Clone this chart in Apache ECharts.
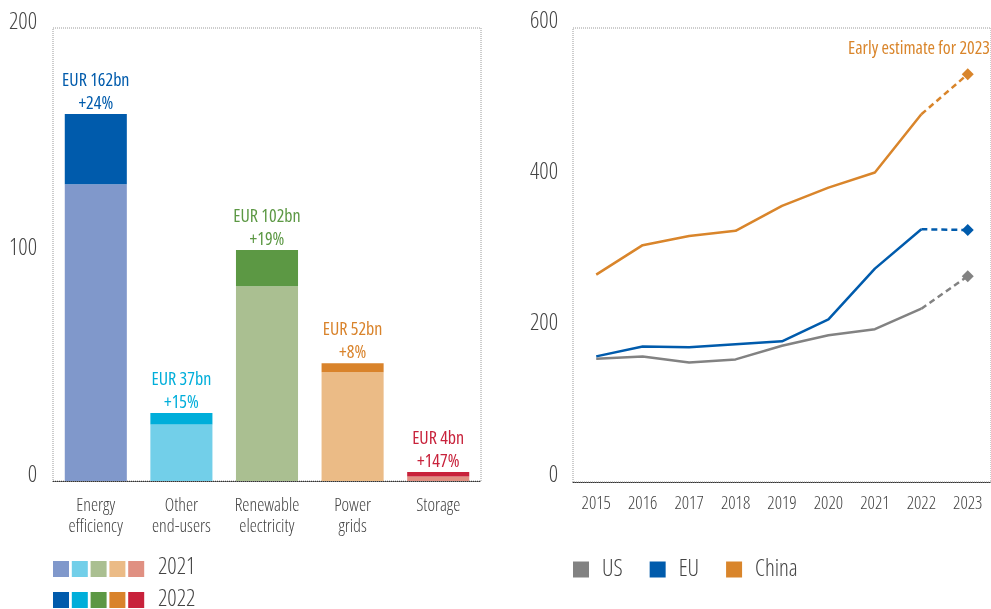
<!DOCTYPE html>
<html>
<head>
<meta charset="utf-8">
<script src="https://cdn.jsdelivr.net/npm/echarts@6/dist/echarts.min.js"></script>
<style>
  html, body { margin: 0; padding: 0; background: #fff; }
  #main { width: 991px; height: 609px; }
</style>
</head>
<body>
<div id="main"></div>
<script>
// data
var categories = ['Energy\nefficiency', 'Other\nend-users', 'Renewable\nelectricity', 'Power\ngrids', 'Storage'];
var inv2021 = [131, 25, 86, 48, 2];
var inv2022 = [162, 30, 102, 52, 4];
var barLabels = ['EUR 162bn', 'EUR 37bn', 'EUR 102bn', 'EUR 52bn', 'EUR 4bn'];
var growth = ['+24%', '+15%', '+19%', '+8%', '+147%'];

var years = ['2015', '2016', '2017', '2018', '2019', '2020', '2021', '2022', '2023'];
var us = [163, 166, 158, 162, 180, 194, 202, 229, 272];
var eu = [166, 179, 178, 182, 186, 215, 282, 334, 333];
var china = [274, 313, 325, 332, 365, 389, 409, 486, 539];

// colours
var col2021 = ['#8098cb', '#72cfe9', '#aabf91', '#ebbb86', '#e09082'];
var col2022 = ['#005bac', '#00aeda', '#5c9844', '#d9832b', '#c8223b'];
var lineCol = { US: '#828282', EU: '#005bac', China: '#d9852b' };

// condensed Open Sans (variable width axis) stands in for the narrow original face
var family = '"Open Sans", sans-serif';
var light = '300 condensed';
var regular = 'normal condensed';

window.onload = function () {
  var chart = echarts.init(document.getElementById('main'));

  // split a series into solid part (to 2022) and dashed estimate (2022-2023)
  function solid(arr) {
    return arr.map(function (v, i) { return i < arr.length - 1 ? v : '-'; });
  }
  function dashed(arr) {
    return arr.map(function (v, i) { return i >= arr.length - 2 ? v : '-'; });
  }

  var lineSeries = [];
  [['US', us], ['EU', eu], ['China', china]].forEach(function (s) {
    lineSeries.push({
      name: s[0], type: 'line', xAxisIndex: 1, yAxisIndex: 1,
      data: solid(s[1]), showSymbol: false, symbol: 'none',
      lineStyle: { color: lineCol[s[0]], width: 2.5 },
      itemStyle: { color: lineCol[s[0]] }
    });
    lineSeries.push({
      name: s[0] + ' estimate', type: 'line', xAxisIndex: 1, yAxisIndex: 1,
      data: dashed(s[1]),
      symbol: function (v, p) { return p.dataIndex === years.length - 1 ? 'diamond' : 'none'; },
      symbolSize: 12,
      lineStyle: { color: lineCol[s[0]], width: 2.5, type: [6, 4] },
      itemStyle: { color: lineCol[s[0]] }
    });
  });

  var legendGraphics = [];
  ['2021', '2022'].forEach(function (yr, r) {
    var cols = r === 0 ? col2021 : col2022;
    cols.forEach(function (c, i) {
      legendGraphics.push({
        type: 'rect', left: 53 + i * 18.8, top: 561 + r * 31,
        shape: { width: 16, height: 16 }, style: { fill: c }
      });
    });
    legendGraphics.push({
      type: 'text', left: 158, top: 556 + r * 32,
      style: { text: yr, font: 'normal ' + light + ' 23px ' + family, fill: '#444' }
    });
  });
  legendGraphics.push({
    type: 'text', right: 1, top: 40,
    style: { text: 'Early estimate for 2023', font: 'normal ' + regular + ' 18px ' + family, fill: '#d9852b' }
  });

  var axisText = { fontFamily: family, fontWeight: light, color: '#444' };

  var option = {
    animation: false,
    grid: [
      { left: 53, top: 28, right: 510, bottom: 128, show: true,
        borderColor: '#9a9a9a', borderWidth: 1, borderType: 'dotted' },
      { left: 573, top: 28, right: -10, bottom: 127, show: true,
        borderColor: '#9a9a9a', borderWidth: 1, borderType: 'dotted' }
    ],
    legend: {
      data: ['US', 'EU', 'China'], left: 573, top: 558, padding: 0,
      icon: 'rect', itemWidth: 16, itemHeight: 16, itemGap: 27,
      textStyle: { fontSize: 23, color: '#444', fontFamily: family, fontWeight: light, padding: [0, 0, 0, 8] }
    },
    xAxis: [
      { type: 'category', gridIndex: 0, data: categories,
        axisLine: { lineStyle: { color: '#333', type: 'dotted' } },
        axisTick: { show: false },
        axisLabel: Object.assign({ fontSize: 18, lineHeight: 21, margin: 14, interval: 0 }, axisText) },
      { type: 'category', gridIndex: 1, data: years, boundaryGap: true,
        axisLine: { lineStyle: { color: '#333', type: 'dotted' } },
        axisTick: { show: false },
        axisLabel: Object.assign({ fontSize: 18, margin: 13, interval: 0 }, axisText) }
    ],
    yAxis: [
      { type: 'value', gridIndex: 0, min: 0, max: 200, interval: 100,
        axisLine: { show: false }, axisTick: { show: false }, splitLine: { show: false },
        axisLabel: Object.assign({ fontSize: 23, margin: 16, verticalAlign: 'bottom', lineHeight: 12 }, axisText) },
      { type: 'value', gridIndex: 1, min: 0, max: 600, interval: 200,
        axisLine: { show: false }, axisTick: { show: false }, splitLine: { show: false },
        axisLabel: Object.assign({ fontSize: 23, margin: 15, verticalAlign: 'bottom', lineHeight: 14 }, axisText) }
    ],
    series: [
      { name: '2021', type: 'bar', stack: 'inv', barCategoryGap: '27.5%',
        data: inv2021.map(function (v, i) { return { value: v, itemStyle: { color: col2021[i] } }; }) },
      { name: '2022', type: 'bar', stack: 'inv',
        data: inv2022.map(function (v, i) {
          return { value: v - inv2021[i], itemStyle: { color: col2022[i] },
                   label: { color: col2022[i] } };
        }),
        label: {
          show: true, position: 'top', distance: -1, fontSize: 18, lineHeight: 23,
          fontFamily: family, fontWeight: regular,
          formatter: function (p) { return barLabels[p.dataIndex] + '\n' + growth[p.dataIndex]; }
        } }
    ].concat(lineSeries),
    graphic: legendGraphics
  };

  chart.setOption(option);
};
</script>
</body>
</html>
